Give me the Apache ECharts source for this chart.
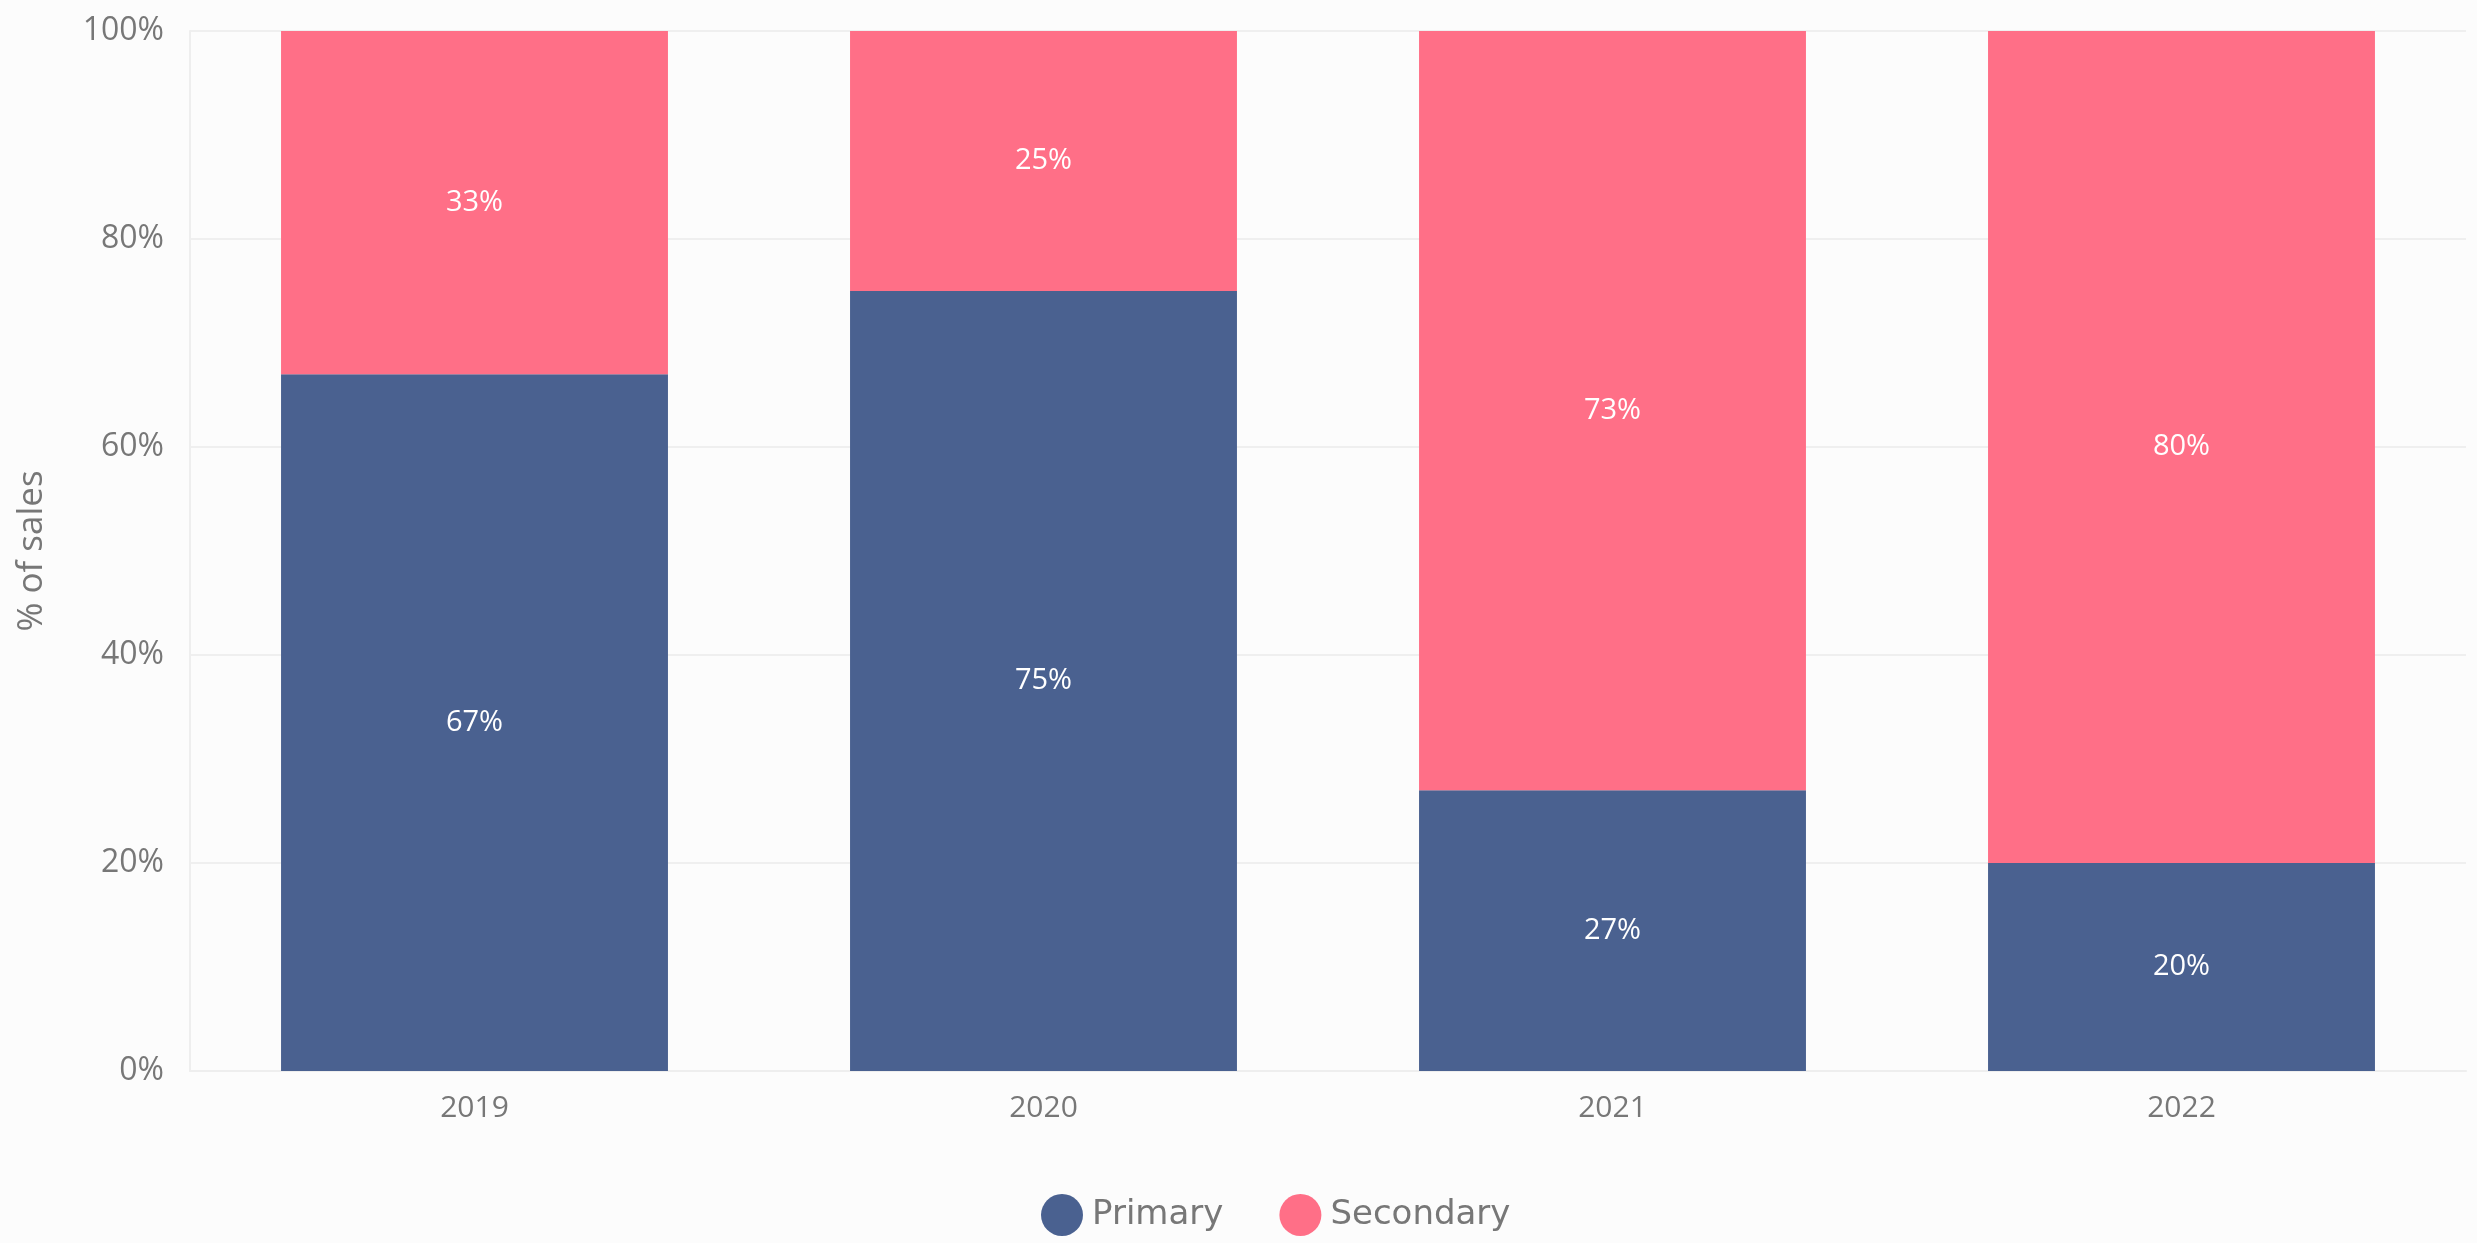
<!DOCTYPE html>
<html>
<head>
<meta charset="utf-8">
<script src="https://cdn.jsdelivr.net/npm/echarts@6/dist/echarts.min.js"></script>
<style>
html,body{margin:0;padding:0;background:#fcfcfc;}
#chart{width:2477px;height:1243px;}
</style>
</head>
<body>
<div id="chart"></div>
<script>
const categories = ['2019', '2020', '2021', '2022'];
const primary = [67, 75, 27, 20];
const secondary = [33, 25, 73, 80];
const yTicks = [0, 20, 40, 60, 80, 100];

const chart = echarts.init(document.getElementById('chart'), null, {renderer: 'canvas'});
const axisFont = '"Open Sans", sans-serif';
const labelOpt = {
  show: true,
  position: 'inside',
  color: '#ffffff',
  fontFamily: axisFont,
  fontSize: 29,
  formatter: p => p.value + '%'
};
chart.setOption({
  backgroundColor: '#fcfcfc',
  animation: false,
  color: ['#4a6190', '#ff6f87'],
  grid: {left: 190, right: 11, top: 31, bottom: 172, containLabel: false},
  legend: {
    left: 1036,
    top: 1189,
    itemWidth: 42,
    itemHeight: 42,
    itemGap: 56,
    icon: 'circle',
    textStyle: {color: '#777777', fontSize: 34, fontFamily: '"DejaVu Sans", sans-serif', padding: [0, 0, 0, 4]},
    data: ['Primary', 'Secondary']
  },
  xAxis: {
    type: 'category',
    data: categories,
    axisLine: {show: true, lineStyle: {color: '#eeeeee', width: 2}},
    axisTick: {show: false},
    axisLabel: {color: '#777777', fontSize: 30, fontFamily: axisFont, margin: 22}
  },
  yAxis: {
    type: 'value',
    min: yTicks[0],
    max: yTicks[yTicks.length - 1],
    interval: 20,
    name: '% of sales',
    nameLocation: 'middle',
    nameGap: 140,
    nameTextStyle: {color: '#777777', fontSize: 35, fontFamily: axisFont},
    axisLine: {show: true, lineStyle: {color: '#eeeeee', width: 2}},
    axisTick: {show: false},
    axisLabel: {color: '#777777', fontSize: 32, fontFamily: axisFont, margin: 26, formatter: v => v + '%'},
    splitLine: {show: true, lineStyle: {color: '#efefef', width: 2}}
  },
  series: [
    {name: 'Primary', type: 'bar', stack: 'total', data: primary, barWidth: '68%', label: labelOpt},
    {name: 'Secondary', type: 'bar', stack: 'total', data: secondary, barWidth: '68%', label: labelOpt}
  ]
});
</script>
</body>
</html>
